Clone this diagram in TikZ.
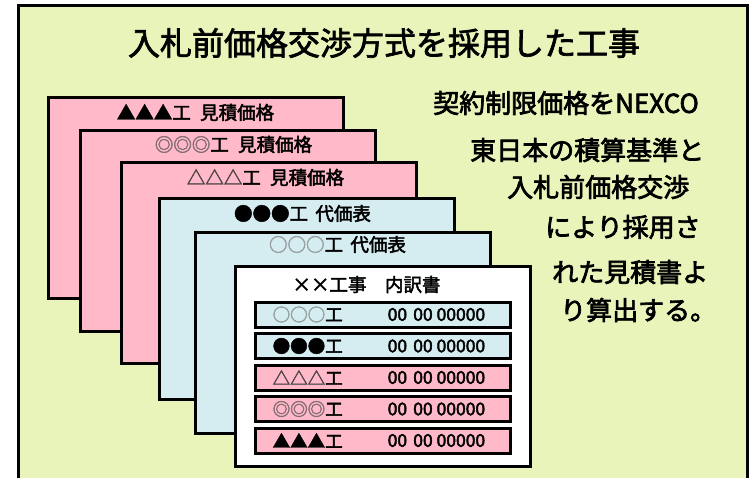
\documentclass[tikz,border=0pt]{standalone}
\usepackage{fontspec}
\newfontfamily\jpbase{Noto Sans CJK JP}
\newcommand\jp{\jpbase\special{pdf:literal direct 2 Tr 0.45 w}}
\newcommand\jpbig{\jpbase\special{pdf:literal direct 2 Tr 0.7 w}}
\usetikzlibrary{calc}
\definecolor{bgyel}{RGB}{232,244,186}
\definecolor{cpink}{RGB}{255,185,200}
\definecolor{cblue}{RGB}{213,236,240}
\definecolor{symlight}{RGB}{150,160,160}
\definecolor{symmid}{RGB}{130,110,115}
\definecolor{symdark}{RGB}{80,70,75}
\begin{document}
\begin{tikzpicture}[x=1pt,y=-1pt,
  card/.style={draw=black, line width=3pt, minimum width=295pt, minimum height=200pt, inner sep=0pt, anchor=north west},
  cardlabel/.style={font=\jp\fontsize{18.5}{18.5}\selectfont, inner sep=0pt, text=black},
  rowbox/.style={draw=black, line width=3pt, minimum width=255pt, minimum height=25pt, inner sep=0pt, anchor=north west},
  rowtext/.style={font=\jp\fontsize{17.5}{17.5}\selectfont, inner sep=0pt, anchor=west},
  sidetext/.style={font=\jpbig\fontsize{26}{26}\selectfont, inner sep=0pt, anchor=west},
  titletext/.style={font=\jpbig\fontsize{32}{32}\selectfont, inner sep=0pt}]
\useasboundingbox (0,0) rectangle (754,478);
\fill[white] (0,0) rectangle (754,478);
\clip (0,0) rectangle (754,478);
\draw[line width=3pt, fill=bgyel] (18.5,5.5) rectangle (747.5,495);
\node[titletext] (title) at (384,43) {入札前価格交渉方式を採用した工事};
% cards
\node[card, fill=cpink] (c1) at (46.5,96.5) {};
\node[card, fill=cpink] (c2) at (78.5,129.5) {};
\node[card, fill=cpink] (c3) at (119.5,161.5) {};
\node[card, fill=cblue] (c4) at (157.5,197.5) {};
\node[card, fill=cblue] (c5) at (193.5,231.5) {};
\node[card, fill=white] (c6) at (233.5,264.5) {};
\node[cardlabel] (l1) at ($(c1.north)+(0,16)$) {▲▲▲工\hspace{0.5em}見積価格};
\node[cardlabel] (l2) at ($(c2.north)+(6,15)$) {{\color{symmid}◎◎◎}工\hspace{0.5em}見積価格};
\node[cardlabel] (l3) at ($(c3.north)+(-3,16)$) {{\color{symdark}△△△}工\hspace{0.5em}見積価格};
\node[cardlabel] (l4) at ($(c4.north)+(-4,16)$) {●●●工\hspace{0.4em}代価表};
\node[cardlabel] (l5) at ($(c5.north)+(-5,13)$) {{\color{symlight}○○○}工\hspace{0.4em}代価表};
\node[cardlabel] (l6) at ($(c6.north)+(-16,20)$) {××工事\hspace{1em}内訳書};
% rows
\node[rowbox, fill=cblue] (r1) at (253.5,300.5) {};
\node[rowbox, fill=cblue] (r2) at (253.5,332) {};
\node[rowbox, fill=cpink] (r3) at (253.5,363.5) {};
\node[rowbox, fill=cpink] (r4) at (253.5,395) {};
\node[rowbox, fill=cpink] (r5) at (253.5,426.5) {};
\node[rowtext] (s1) at ($(r1.west)+(19,0)$) {{\color{symlight}○○○}工};
\node[rowtext] (s2) at ($(r2.west)+(19,0)$) {●●●工};
\node[rowtext] (s3) at ($(r3.west)+(19,0)$) {{\color{symdark}△△△}工};
\node[rowtext] (s4) at ($(r4.west)+(19,0)$) {{\color{symmid}◎◎◎}工};
\node[rowtext] (s5) at ($(r5.west)+(19,0)$) {▲▲▲工};
\node[rowtext] (n1) at ($(r1.west)+(134,0)$) {00\hspace{0.35em}00 00000};
\node[rowtext] (n2) at ($(r2.west)+(134,0)$) {00\hspace{0.35em}00 00000};
\node[rowtext] (n3) at ($(r3.west)+(134,0)$) {00\hspace{0.35em}00 00000};
\node[rowtext] (n4) at ($(r4.west)+(134,0)$) {00\hspace{0.35em}00 00000};
\node[rowtext] (n5) at ($(r5.west)+(134,0)$) {00\hspace{0.35em}00 00000};
% side text
\node[sidetext] (t1) at (433,103) {契約制限価格をNEXCO};
\node[sidetext] (t2) at (470,150) {東日本の積算基準と};
\node[sidetext] (t3) at (507,187) {入札前価格交渉};
\node[sidetext] (t4) at (545,227) {により採用さ};
\node[sidetext] (t5) at (552,272) {れた見積書よ};
\node[sidetext] (t6) at (560,310) {り算出する。};
\end{tikzpicture}
\end{document}
